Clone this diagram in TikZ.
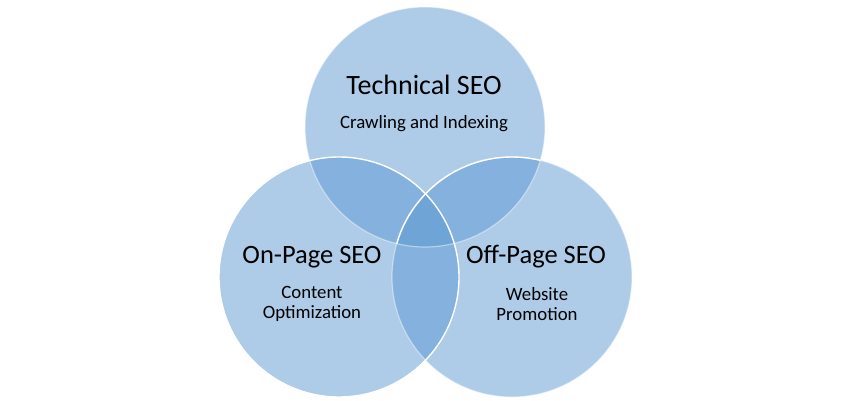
\documentclass[tikz,border=0pt]{standalone}
\usepackage{fontspec}
\setmainfont{Carlito}
\definecolor{basec}{HTML}{AECBE8}
\definecolor{twoc}{HTML}{85B1DE}
\definecolor{threec}{HTML}{6FA4D6}
\tikzset{
  head/.style={font=\fontsize{26.5}{30}\selectfont, text=black, inner sep=0pt},
  tophead/.style={font=\fontsize{28}{32}\selectfont, text=black, inner sep=0pt},
  sub/.style={font=\fontsize{18.8}{21}\selectfont, text=black, inner sep=0pt, align=center},
  rim/.style={draw=white, line width=1.4pt},
  faintrim/.style={draw=white, draw opacity=0.45, line width=1.2pt}
}
\begin{document}
\begin{tikzpicture}[x=1pt,y=-1pt]
\useasboundingbox (0,0) rectangle (850,400);
\fill[white] (0,0) rectangle (850,400);
\def\R{120}
\coordinate (T) at (425,127);
\coordinate (L) at (339,277);
\coordinate (Rt) at (512,277);
% base discs
\fill[basec] (T) circle (\R);
\fill[basec] (L) circle (\R);
\fill[basec] (Rt) circle (\R);
% pairwise overlaps
\begin{scope}
  \clip (T) circle (\R);
  \fill[twoc] (L) circle (\R);
  \fill[twoc] (Rt) circle (\R);
\end{scope}
\begin{scope}
  \clip (L) circle (\R);
  \fill[twoc] (Rt) circle (\R);
\end{scope}
% triple overlap
\begin{scope}
  \clip (T) circle (\R);
  \clip (L) circle (\R);
  \fill[threec] (Rt) circle (\R);
\end{scope}
% rims
\path[faintrim] (T) circle (\R);
\path[faintrim] (Rt) circle (\R);
\begin{scope}
  \clip (T) circle (\R);
  \path[rim] (Rt) circle (\R);
\end{scope}
\path[rim] (L) circle (\R);
% texts
\node[tophead] (th) at (424,85) {Technical SEO};
\node[sub] (ts) at (424,124) {Crawling and Indexing};
\node[head] (lh) at (312,257) {On-Page SEO};
\node[sub] (ls) at (312,304) {Content\\[-1pt]Optimization};
\node[head] (rh) at (536,257) {Off-Page SEO};
\node[sub] (rs) at (537,304) {Website\\[-1pt]Promotion};
\end{tikzpicture}
\end{document}
